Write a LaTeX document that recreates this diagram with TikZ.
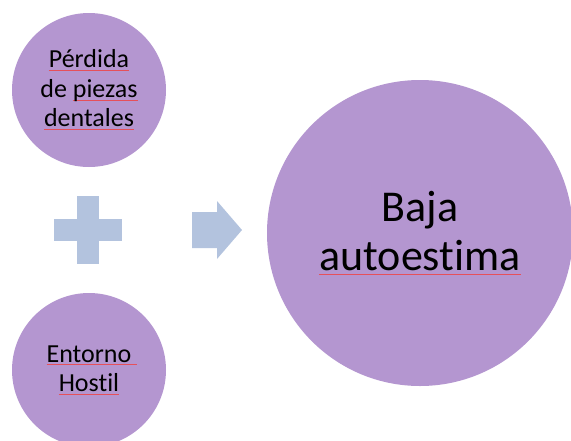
\documentclass[tikz,border=0pt]{standalone}
\usepackage{fontspec}
\setmainfont{Carlito}[Ligatures=NoCommon]
\usepackage{xcolor}
\usepackage{tikz}
\usetikzlibrary{shapes.geometric, positioning}
\definecolor{morado}{RGB}{180,150,208}
\definecolor{azul}{RGB}{179,195,222}
\definecolor{rojo}{RGB}{230,80,90}
\newlength{\spellw}
\newcommand{\spell}[1]{\settowidth{\spellw}{#1}\rlap{{\color{rojo}\rule[-0.25ex]{\spellw}{0.8pt}}}#1}
\tikzstyle{circulo} = [circle, fill=morado, inner sep=0pt, text centered, align=center]
\tikzstyle{chico} = [circulo, minimum size=154pt, font=\fontsize{26}{29.5}\selectfont]
\tikzstyle{grande} = [circulo, minimum size=306pt, font=\fontsize{44}{49}\selectfont]

\begin{document}
\begin{tikzpicture}[x=1pt, y=-1pt, node distance=280pt]
	\useasboundingbox (0,0) rectangle (571,440);
	\clip (0,0) rectangle (571,440);
	
	\node (perdida) [chico] at (89,90) {\spell{Pérdida}\\de \spell{piezas}\\\spell{dentales}};
	\node (entorno) [chico, below of = perdida] {\spell{Entorno\ }\\\spell{Hostil}};
	
	% signo mas
	\coordinate (mas) at (88,230);
	\fill [azul] (mas) ++(-34,-11) rectangle ++(68,22);
	\fill [azul] (mas) ++(-11,-34) rectangle ++(22,68);
	
	% flecha
	\coordinate (flecha) at (217,230);
	\fill [azul] (flecha) ++(-25,-18) -- ++(25,0) -- ++(0,-11) -- ++(25,29) -- ++(-25,29) -- ++(0,-11) -- ++(-25,0) -- cycle;
	
	\node (baja) [grande] at (420,233) {Baja\\\spell{autoestima}};
	
\end{tikzpicture}
\end{document}
